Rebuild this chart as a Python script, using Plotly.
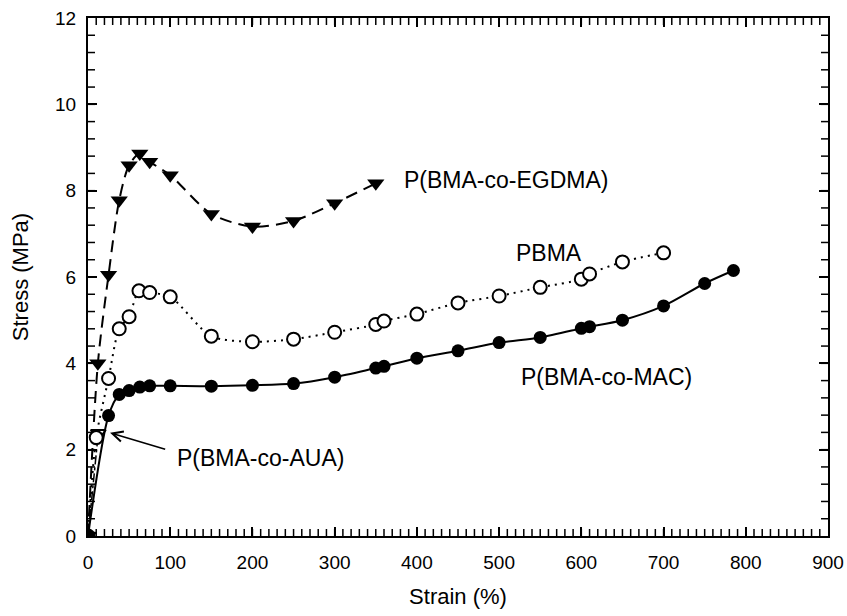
import plotly.graph_objects as go

# ---- data ----
strain_egdma = [0, 12, 25, 38, 50, 63, 75, 100, 150, 200, 250, 300, 350]
stress_egdma = [0, 4.0, 6.05, 7.78, 8.59, 8.86, 8.67, 8.36, 7.46, 7.17, 7.30, 7.71, 8.17]

strain_pbma = [0, 10, 25, 38, 50, 62, 75, 100, 150, 200, 250, 300, 350, 360,
               400, 450, 500, 550, 600, 610, 650, 700]
stress_pbma = [0, 2.28, 3.65, 4.80, 5.08, 5.68, 5.64, 5.54, 4.63, 4.50, 4.56, 4.72, 4.90, 4.98,
               5.14, 5.40, 5.56, 5.76, 5.95, 6.07, 6.35, 6.56]

strain_mac = [0, 25, 38, 50, 63, 75, 100, 150, 200, 250, 300, 350, 360, 400,
              450, 500, 550, 600, 610, 650, 700, 750, 785]
stress_mac = [0, 2.79, 3.28, 3.37, 3.45, 3.48, 3.48, 3.47, 3.49, 3.53, 3.68, 3.89, 3.93, 4.12,
              4.29, 4.48, 4.60, 4.81, 4.85, 5.00, 5.33, 5.85, 6.15]

strain_aua = [0, 12.5]
stress_aua = [0, 2.38]

X_RANGE = [0, 900]
Y_RANGE = [0, 12]
x_major = [0, 100, 200, 300, 400, 500, 600, 700, 800, 900]
y_major = [0, 2, 4, 6, 8, 10, 12]
x_minor = list(range(10, 900, 10))
y_minor = [round(i * 0.4, 1) for i in range(1, 30)]

FONT = "Liberation Sans, Arial, Helvetica, sans-serif"

fig = go.Figure()

# minor tick marks along the four frame edges (clipped to plot area -> inside ticks)
tick_style = dict(mode="markers", hoverinfo="skip", showlegend=False)
fig.add_trace(go.Scatter(
    x=x_minor + x_minor, y=[Y_RANGE[0]] * len(x_minor) + [Y_RANGE[1]] * len(x_minor),
    marker=dict(symbol="line-ns", size=10, line=dict(width=1.5, color="black")),
    **tick_style))
fig.add_trace(go.Scatter(
    x=[X_RANGE[0]] * len(y_minor) + [X_RANGE[1]] * len(y_minor), y=y_minor + y_minor,
    marker=dict(symbol="line-ew", size=10, line=dict(width=1.5, color="black")),
    **tick_style))

fig.add_trace(go.Scatter(
    x=strain_aua, y=stress_aua, mode="lines+markers",
    line=dict(color="black", width=1.5, dash="dashdot"),
    marker=dict(symbol="triangle-down", size=13, color="white", line=dict(width=2, color="black")),
    name="P(BMA-co-AUA)"))

fig.add_trace(go.Scatter(
    x=strain_egdma, y=stress_egdma, mode="lines+markers",
    line=dict(color="black", width=2, dash="12px,7px", shape="spline", smoothing=0.8),
    marker=dict(symbol="triangle-down", size=15, color="black"),
    name="P(BMA-co-EGDMA)"))

fig.add_trace(go.Scatter(
    x=strain_pbma, y=stress_pbma, mode="lines+markers",
    line=dict(color="black", width=2, dash="2px,5px", shape="spline", smoothing=0.8),
    marker=dict(symbol="circle", size=13, color="white", line=dict(width=2, color="black")),
    name="PBMA"))

fig.add_trace(go.Scatter(
    x=strain_mac, y=stress_mac, mode="lines+markers",
    line=dict(color="black", width=2, shape="spline", smoothing=0.8),
    marker=dict(symbol="circle", size=13, color="black"),
    name="P(BMA-co-MAC)"))

ann_font = dict(family=FONT, size=23, color="black")
fig.add_annotation(x=382, y=8.25, text="P(BMA-co-EGDMA)", showarrow=False,
                   xanchor="left", yanchor="middle", font=ann_font)
fig.add_annotation(x=561, y=6.56, text="PBMA", showarrow=False,
                   xanchor="center", yanchor="middle", font=ann_font)
fig.add_annotation(x=630, y=3.69, text="P(BMA-co-MAC)", showarrow=False,
                   xanchor="center", yanchor="middle", font=ann_font)
fig.add_annotation(x=106, y=1.81, text="P(BMA-co-AUA)", showarrow=False,
                   xanchor="left", yanchor="middle", font=ann_font)
fig.add_annotation(x=26.8, y=2.39, ax=95.7, ay=2.0, axref="x", ayref="y",
                   text="", showarrow=True, arrowhead=5, arrowsize=1.3,
                   arrowwidth=1.6, arrowcolor="black", standoff=0)

axis_common = dict(
    showline=True, linecolor="black", linewidth=2, mirror="allticks",
    ticks="inside", ticklen=9, tickwidth=1.5, tickcolor="black",
    showgrid=False, zeroline=False, automargin=False, tickmode="array",
    tickfont=dict(family=FONT, size=19, color="black"),
)

fig.update_layout(
    xaxis=dict(range=X_RANGE, tickvals=x_major, ticktext=[str(v) for v in x_major],
               title=dict(text="Strain (%)", font=dict(family=FONT, size=22, color="black"), standoff=17),
               ticklabelstandoff=8, **axis_common),
    yaxis=dict(range=Y_RANGE, tickvals=y_major, ticktext=[str(v) for v in y_major],
               title=dict(text="Stress (MPa)", font=dict(family=FONT, size=22, color="black"), standoff=20),
               ticklabelstandoff=6, **axis_common),
    width=847, height=616,
    margin=dict(l=88, r=19, t=18, b=80),
    paper_bgcolor="white", plot_bgcolor="white",
    showlegend=False,
    font=dict(family=FONT, color="black"),
)

fig.write_html("out.html", config={"displayModeBar": False},
               post_script="document.body.style.margin='0';document.body.style.padding='0';")
